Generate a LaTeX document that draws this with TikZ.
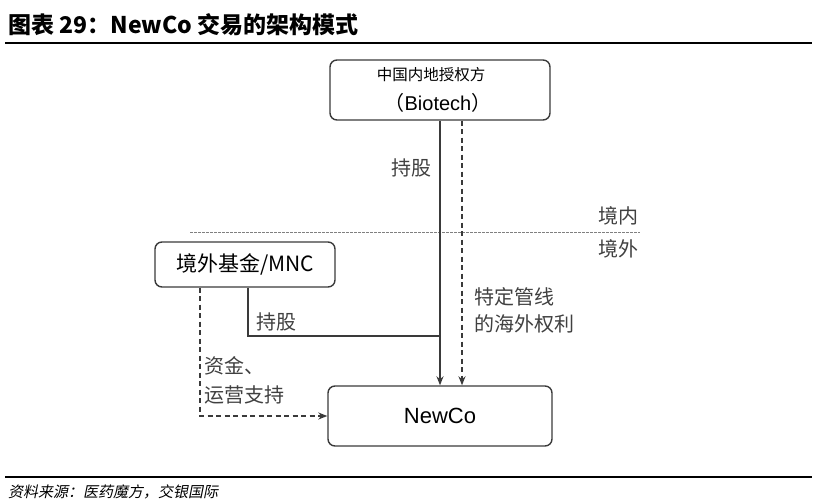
\documentclass[tikz,border=0pt]{standalone}
\usepackage{fontspec}
\setmainfont{Liberation Sans}
\newfontfamily\cjk{Noto Sans CJK SC}
\newfontfamily\cjksl[FakeSlant=0.2]{Noto Sans CJK SC}
\usetikzlibrary{positioning, shapes.geometric, arrows.meta}
\usetikzlibrary{calc}
\definecolor{linegray}{HTML}{3A3A3A}
\definecolor{textgray}{HTML}{404040}
\tikzstyle{entity} = [rectangle, rounded corners=7pt, line width=1.4pt, draw=linegray, text centered, inner sep=0pt]
\tikzstyle{arrow} = [line width=1.4pt, draw=linegray, ->, >={Stealth[length=9pt, width=7pt]}]
\tikzstyle{darrow} = [line width=1.4pt, draw=linegray, dash pattern=on 5pt off 3.5pt, ->, >={Stealth[length=9pt, width=7pt]}]
\tikzstyle{tag} = [font=\fontsize{20}{22}\selectfont\cjk, text=textgray, inner sep=0pt]
\tikzstyle{rule} = [line width=1.3pt, draw=black]

\begin{document}
\begin{tikzpicture}[x=1pt, y=-1pt]
  \useasboundingbox (0,0) rectangle (818,502);
  %标题与分隔线
  \node (title) [anchor=west, inner sep=0pt, font=\fontsize{23}{25}\selectfont\cjk\bfseries] at (8,25) {图表 29：NewCo 交易的架构模式};
  \coordinate (topl) at (5,43);
  \coordinate (topr) at (812,43);
  \draw [rule] (topl) -- (topr);

  %定义各方
  \node (bio) [entity, minimum width=220pt, minimum height=60pt] at (440,90) {};
  \node (bioname) [font=\fontsize{15.5}{17}\selectfont\cjk, inner sep=0pt] at (431,75) {中国内地授权方};
  \node (biotech) [font=\fontsize{20}{22}\selectfont, inner sep=0pt] at (438,103) {{\cjk （}Biotech{\cjk ）}};
  \node (mnc) [entity, minimum width=180pt, minimum height=45pt, font=\fontsize{21}{23}\selectfont\cjk] at (245,264.5) {境外基金/MNC};
  \node (newco) [entity, minimum width=224pt, minimum height=60pt, font=\fontsize{22}{24}\selectfont] at (440,416) {NewCo};

  %境内外分界
  \coordinate (bordl) at (190,233);
  \coordinate (bordr) at (640,233);
  \draw [gray, line width=1pt, dash pattern=on 2.5pt off 1.5pt] (bordl) -- (bordr);
  \node (inland) [tag] at (618,216) {境内};
  \node (abroad) [tag] at (618,249) {境外};

  %连接
  \coordinate (join) at (440,336);
  \draw [arrow] (bio.south) -- (newco.north);
  \draw [darrow] ([xshift=22pt]bio.south) -- ([xshift=22pt]newco.north);
  \draw [line width=1.4pt, draw=linegray] ([xshift=3pt]mnc.south) |- (join);
  \draw [darrow] ([xshift=-45pt]mnc.south) |- (newco.west);

  %标注
  \node (hold1) [tag] at (411,168) {持股};
  \node (hold2) [tag] at (276,322) {持股};
  \node (rights1) [tag, anchor=west] at (474,297) {特定管线};
  \node (rights2) [tag, anchor=west] at (474,324) {的海外权利};
  \node (fund1) [tag, anchor=west] at (204,366) {资金、};
  \node (fund2) [tag, anchor=west] at (204,395) {运营支持};

  %资料来源
  \coordinate (botl) at (5,477);
  \coordinate (botr) at (812,477);
  \draw [rule] (botl) -- (botr);
  \node (source) [anchor=west, inner sep=0pt, font=\fontsize{15}{17}\selectfont\cjksl] at (8,492) {资料来源：医药魔方，交银国际};
\end{tikzpicture}
\end{document}
